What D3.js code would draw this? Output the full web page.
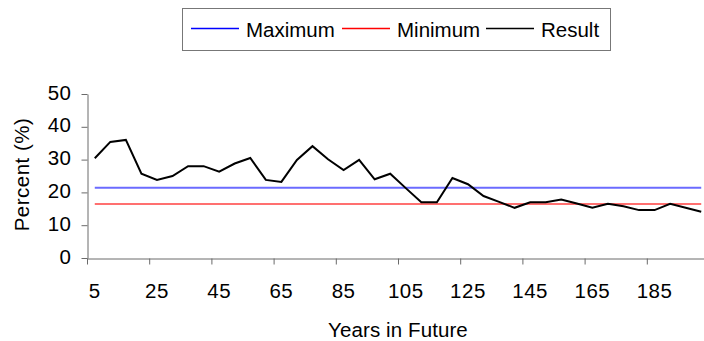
<!DOCTYPE html>
<html>
<head>
<meta charset="utf-8">
<script src="https://cdn.jsdelivr.net/npm/d3@7"></script>
<style>
  html, body { margin: 0; padding: 0; background: #fff; }
  svg { display: block; font-family: "Liberation Sans", Arial, sans-serif; }
</style>
</head>
<body>
<svg id="chart" width="704" height="341"></svg>
<script>
// Years in the future (one category every 5 years)
const years = [5, 10, 15, 20, 25, 30, 35, 40, 45, 50,
               55, 60, 65, 70, 75, 80, 85, 90, 95, 100,
               105, 110, 115, 120, 125, 130, 135, 140, 145, 150,
               155, 160, 165, 170, 175, 180, 185, 190, 195, 200];

// Simulated result, percent
const result = [30.4, 35.4, 36.0, 25.7, 23.8, 25.0, 28.0, 28.0, 26.3, 28.8,
                30.5, 23.8, 23.2, 29.9, 34.1, 30.1, 26.8, 29.9, 24.0, 25.7,
                21.3, 17.0, 17.0, 24.4, 22.5, 18.9, 17.1, 15.3, 17.0, 17.0,
                17.8, 16.6, 15.3, 16.5, 15.8, 14.6, 14.6, 16.5, 15.3, 14.1];

// Constant bounds, percent
const maximum = 21.4;
const minimum = 16.5;

const yTicks = [0, 10, 20, 30, 40, 50];
const labelEvery = 4;
const seriesNames = ["Maximum", "Minimum", "Result"];

// Styling and layout
const legendColor = { Maximum: "#0000ff", Minimum: "#ff0000", Result: "#000000" };
const legendLineX = [191, 342, 486];
const svg = d3.select("#chart");
const plotLeft = 87, plotTop = 94, plotBottom = 258, bandW = 15.55;
const plotRight = plotLeft + bandW * years.length;
const axisColor = "#6a6a6a";
const fontSize = 20.5;

const x = d3.scaleBand().domain(years).range([plotLeft, plotRight]).padding(0);
const y = d3.scaleLinear().domain([0, 50]).range([plotBottom, plotTop]);
const cx = d => x(d) + x.bandwidth() / 2;

// Y axis
const yAxis = svg.append("g")
  .attr("transform", `translate(${plotLeft + 0.5},0)`)
  .call(d3.axisLeft(y).tickValues(yTicks).tickSize(6).tickSizeOuter(0).tickPadding(10));
yAxis.select(".domain").attr("stroke", axisColor);
yAxis.selectAll(".tick line").attr("stroke", axisColor);
yAxis.selectAll(".tick text")
  .attr("font-size", fontSize).attr("fill", "#000")
  .attr("letter-spacing", 0.5).attr("dy", "0.25em")
  .attr("font-family", "Liberation Sans, Arial, sans-serif");

// X axis: ticks on category boundaries, labels on category centres
const labelled = years.filter((d, i) => i % labelEvery === 0);
const xAxis = svg.append("g")
  .attr("transform", `translate(0,${plotBottom + 0.5})`)
  .call(d3.axisBottom(x).tickValues(labelled).tickSize(6).tickSizeOuter(0).tickPadding(18.5));
xAxis.select(".domain").attr("stroke", axisColor);
xAxis.selectAll(".tick line")
  .attr("stroke", axisColor)
  .attr("transform", `translate(${-x.bandwidth() / 2 + 0.5},0)`);
xAxis.selectAll(".tick text")
  .attr("font-size", fontSize).attr("fill", "#000")
  .attr("letter-spacing", 0.5)
  .attr("font-family", "Liberation Sans, Arial, sans-serif");

// Bound lines across the categories
const first = years[0], last = years[years.length - 1];
svg.append("line")
  .attr("x1", cx(first)).attr("x2", cx(last))
  .attr("y1", y(maximum)).attr("y2", y(maximum))
  .attr("stroke", "#6b6bff").attr("stroke-width", 2);
svg.append("line")
  .attr("x1", cx(first)).attr("x2", cx(last))
  .attr("y1", y(minimum)).attr("y2", y(minimum))
  .attr("stroke", "#ff7070").attr("stroke-width", 2);

// Result series
const line = d3.line().x((d, i) => cx(years[i])).y(d => y(d));
svg.append("path")
  .datum(result)
  .attr("d", line)
  .attr("fill", "none")
  .attr("stroke", "#000")
  .attr("stroke-width", 2)
  .attr("stroke-linejoin", "miter");

// Axis titles
svg.append("text")
  .attr("x", 398).attr("y", 329)
  .attr("text-anchor", "middle").attr("dominant-baseline", "central")
  .attr("font-size", fontSize).attr("letter-spacing", 0.1).text("Years in Future");
svg.append("text")
  .attr("transform", "translate(21.5,174.5) rotate(-90)")
  .attr("text-anchor", "middle").attr("dominant-baseline", "central")
  .attr("font-size", fontSize).attr("letter-spacing", 0.5).text("Percent (%)");

// Legend
const legend = svg.append("g");
legend.append("rect")
  .attr("x", 182.5).attr("y", 8.5).attr("width", 428).attr("height", 42)
  .attr("fill", "#fff").attr("stroke", "#777").attr("stroke-width", 1);
seriesNames.forEach((name, i) => {
  const lx = legendLineX[i];
  legend.append("line")
    .attr("x1", lx).attr("x2", lx + 48).attr("y1", 28.5).attr("y2", 28.5)
    .attr("stroke", legendColor[name]).attr("stroke-width", 1.3);
  legend.append("text")
    .attr("x", lx + 55).attr("y", 29)
    .attr("dominant-baseline", "central")
    .attr("font-size", fontSize).text(name);
});
</script>
</body>
</html>
